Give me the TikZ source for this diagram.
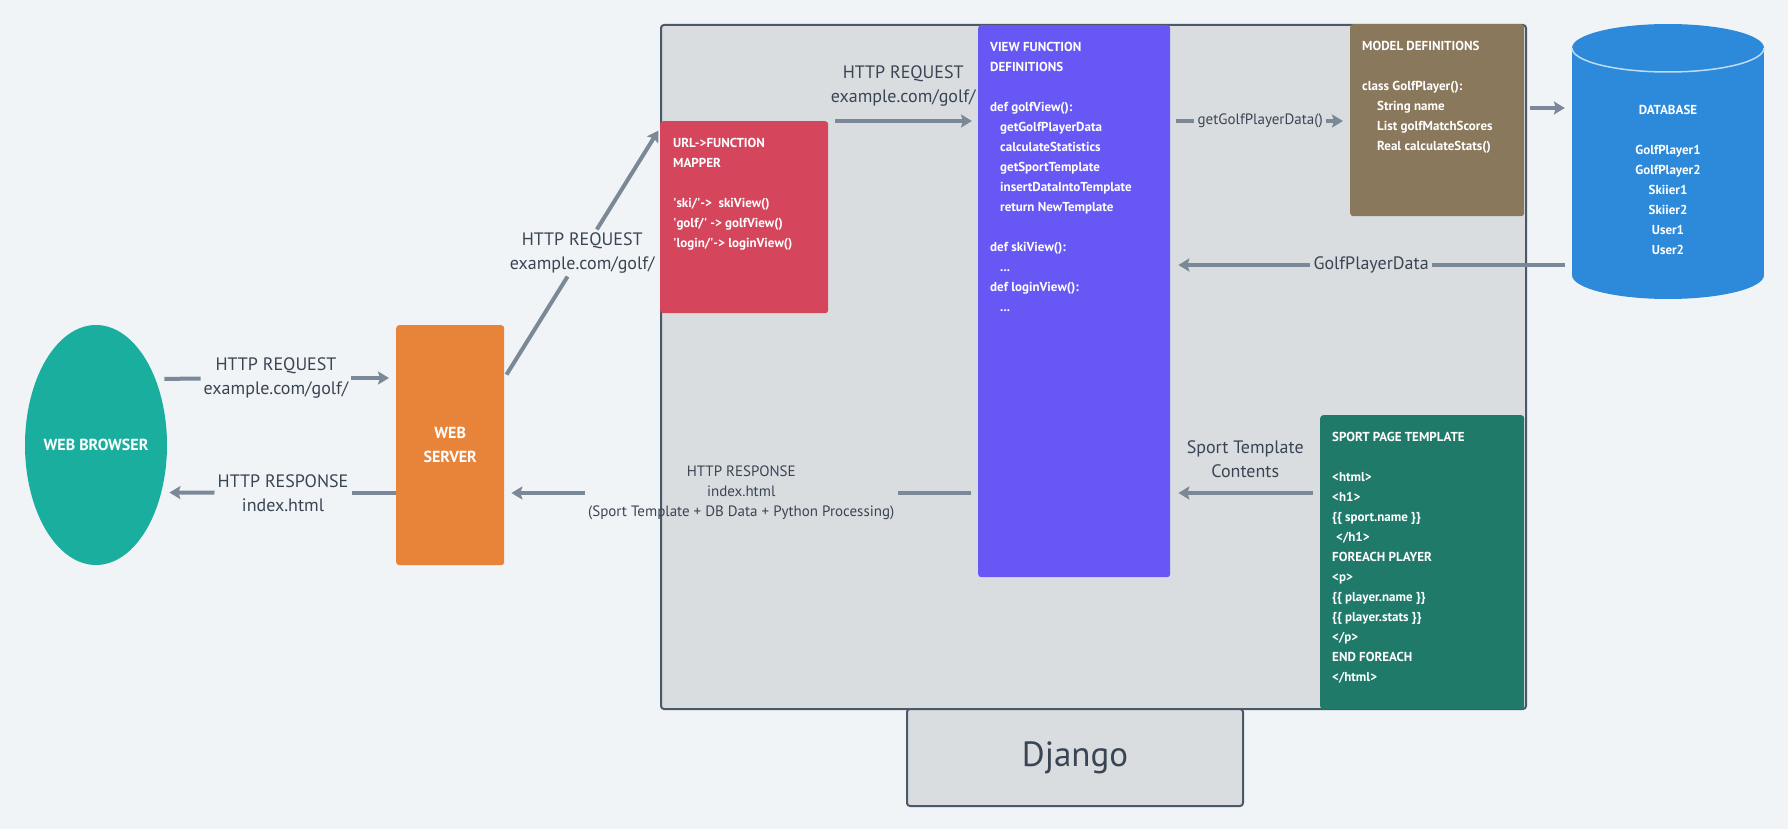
\documentclass[tikz,border=0pt]{standalone}
\usepackage{fontspec}
\setmainfont{PT Sans}
\usepackage{xcolor}
\usetikzlibrary{positioning}
\usetikzlibrary{arrows.meta}
\usetikzlibrary{shapes.geometric}
\usetikzlibrary{calc}

\definecolor{bgcol}{HTML}{F0F4F7}
\definecolor{djfill}{HTML}{D9DDE0}
\definecolor{frame}{HTML}{4A5867}
\definecolor{browsercol}{HTML}{1AAE9F}
\definecolor{servercol}{HTML}{E8833A}
\definecolor{mappercol}{HTML}{D5465D}
\definecolor{viewcol}{HTML}{6758F5}
\definecolor{modelcol}{HTML}{8A785C}
\definecolor{dbcol}{HTML}{2D89D9}
\definecolor{sportcol}{HTML}{1F7A6A}
\definecolor{arrowgray}{HTML}{7B8897}
\definecolor{txtdark}{HTML}{3A4554}

\tikzset{
  box/.style={rectangle, rounded corners=3pt, inner sep=0pt, anchor=north west},
  boxtext/.style={inner sep=0pt, align=left, text=white, font=\bfseries\fontsize{13}{20}\selectfont},
  lbl/.style={inner sep=3pt, align=center, text=txtdark, font=\fontsize{18}{24}\selectfont},
  lblsmall/.style={lbl, font=\fontsize{15}{20}\selectfont},
  conn/.style={draw=arrowgray, line width=4pt},
  arr/.style={conn, -{Stealth[length=11pt,width=13pt,inset=2pt]}},
}

\begin{document}
\begin{tikzpicture}[x=1pt, y=-1pt]
  \useasboundingbox (0,0) rectangle (1788,829);
  \fill[bgcol] (0,0) rectangle (1788,829);

  % django frame
  \node[box, draw=frame, line width=2pt, fill=djfill, minimum width=865, minimum height=684] (django) at (660,24) {};
  \node[box, draw=frame, line width=2pt, fill=djfill, minimum width=336, minimum height=97, text=txtdark, font=\fontsize{35}{40}\selectfont] (djlabel) at (906,708) {Django};

  % client side
  \node[ellipse, fill=browsercol, minimum width=142, minimum height=240, inner sep=0pt,
    label={[text=white, font=\bfseries\fontsize{16}{24}\selectfont]center:WEB BROWSER}] (browser) at (96,445) {};
  \node[box, fill=servercol, minimum width=108, minimum height=240, align=center, text=white, font=\bfseries\fontsize{16}{24}\selectfont] (server) at (396,325) {WEB\\SERVER};

  % django parts
  \node[box, fill=mappercol, minimum width=168, minimum height=192] (mapper) at (660,121) {};
  \node[boxtext, below right=17.5pt and 13pt of mapper.north west] (mappertext) {URL->FUNCTION\\MAPPER\\[20pt]\textquotesingle ski/\textquotesingle->\ \ skiView()\\\textquotesingle golf/\textquotesingle\ -> golfView()\\\textquotesingle login/\textquotesingle-> loginView()};

  \node[box, fill=viewcol, minimum width=192, minimum height=552] (view) at (978,25) {};
  \node[boxtext, below right=17.5pt and 12pt of view.north west] (viewtext) {VIEW FUNCTION\\DEFINITIONS\\[20pt]def golfView():\\\hspace*{10pt}getGolfPlayerData\\\hspace*{10pt}calculateStatistics\\\hspace*{10pt}getSportTemplate\\\hspace*{10pt}insertDataIntoTemplate\\\hspace*{10pt}return NewTemplate\\[20pt]def skiView():\\\hspace*{10pt}...\\def loginView():\\\hspace*{10pt}...};

  \node[box, fill=modelcol, minimum width=174, minimum height=192] (model) at (1350,24) {};
  \node[boxtext, below right=17.5pt and 12pt of model.north west] (modeltext) {MODEL DEFINITIONS\\[20pt]class GolfPlayer():\\\hspace*{15pt}String name\\\hspace*{15pt}List golfMatchScores\\\hspace*{15pt}Real calculateStats()};

  \node[box, fill=sportcol, minimum width=204, minimum height=294] (sport) at (1320,415) {};
  \node[boxtext, below right=17.5pt and 12pt of sport.north west] (sporttext) {SPORT PAGE TEMPLATE\\[20pt]<html>\\<h1>\\\{\{ sport.name \}\}\\\hspace*{4pt}</h1>\\FOREACH PLAYER\\<p>\\\{\{ player.name \}\}\\\{\{ player.stats \}\}\\</p>\\END FOREACH\\</html>};

  % database
  \fill[dbcol] (1572,48) rectangle (1764,275);
  \fill[dbcol] (1668,275) ellipse[x radius=96, y radius=24];
  \fill[dbcol] (1668,48) ellipse[x radius=96, y radius=24];
  \draw[white!70!dbcol, line width=1.5pt] (1572,48) arc[start angle=180, end angle=0, x radius=96, y radius=24];
  \node[boxtext, align=center, minimum width=192] (db) at (1668,180) {DATABASE\\[20pt]GolfPlayer1\\GolfPlayer2\\Skiier1\\Skiier2\\User1\\User2};

  % requests
  \node[lbl] (req1) at (276,378) {HTTP REQUEST\\example.com/golf/};
  \draw[conn, shorten <=9pt] (browser.48) -- (req1);
  \draw[arr, shorten >=7pt] (req1) -- (server.west |- req1);

  \node[lbl] (req2) at ($(server.east |- req1)!0.5!(mapper.west |- 0,128)$) {HTTP REQUEST\\example.com/golf/};
  \draw[conn, shorten <=4pt] (server.east |- req1) -- (req2);
  \draw[arr, shorten >=3pt] (req2) -- (mapper.west |- 0,128);

  \draw[arr, shorten <=7pt, shorten >=6pt] (mapper.north east) -- node[lbl, above=10pt] (req3) {HTTP REQUEST\\example.com/golf/} (view.west |- mapper.north east);

  % model data
  \node[lblsmall] (getdata) at ($(view.east |- 0,121)!0.5!(model.west |- 0,121)$) {getGolfPlayerData()};
  \draw[conn, shorten <=6pt] (view.east |- getdata) -- (getdata);
  \draw[arr, shorten >=7pt] (getdata) -- (model.west |- getdata);

  \draw[arr, shorten <=6pt, shorten >=7pt] (model.east |- 0,108) -- (db.west |- 0,108);

  \node[lbl] (pdata) at ($(view.east |- 0,265)!0.5!(db.west |- 0,265)$) {GolfPlayerData};
  \draw[conn, shorten <=7pt] (db.west |- pdata) -- (pdata);
  \draw[arr, shorten >=8pt] (pdata) -- (view.east |- pdata);

  \draw[arr, shorten <=7pt, shorten >=8pt] (sport.west |- 0,493) -- node[lbl, above=10pt] (tplc) {Sport Template\\Contents} (view.east |- 0,493);

  % responses
  \node[lblsmall] (res2) at ($(view.west |- 0,493)!0.5!(server.east |- 0,493)$) {HTTP RESPONSE\\index.html\\(Sport Template + DB Data + Python Processing)};
  \draw[conn, shorten <=7pt] (view.west |- res2) -- (res2);
  \draw[arr, shorten >=7pt] (res2) -- (server.east |- res2);

  \node[lbl] (res1) at (283,493) {HTTP RESPONSE\\index.html};
  \draw[conn] (server.west |- res1) -- (res1);
  \draw[arr, shorten >=8pt] (res1) -- (browser.-36);
\end{tikzpicture}
\end{document}
